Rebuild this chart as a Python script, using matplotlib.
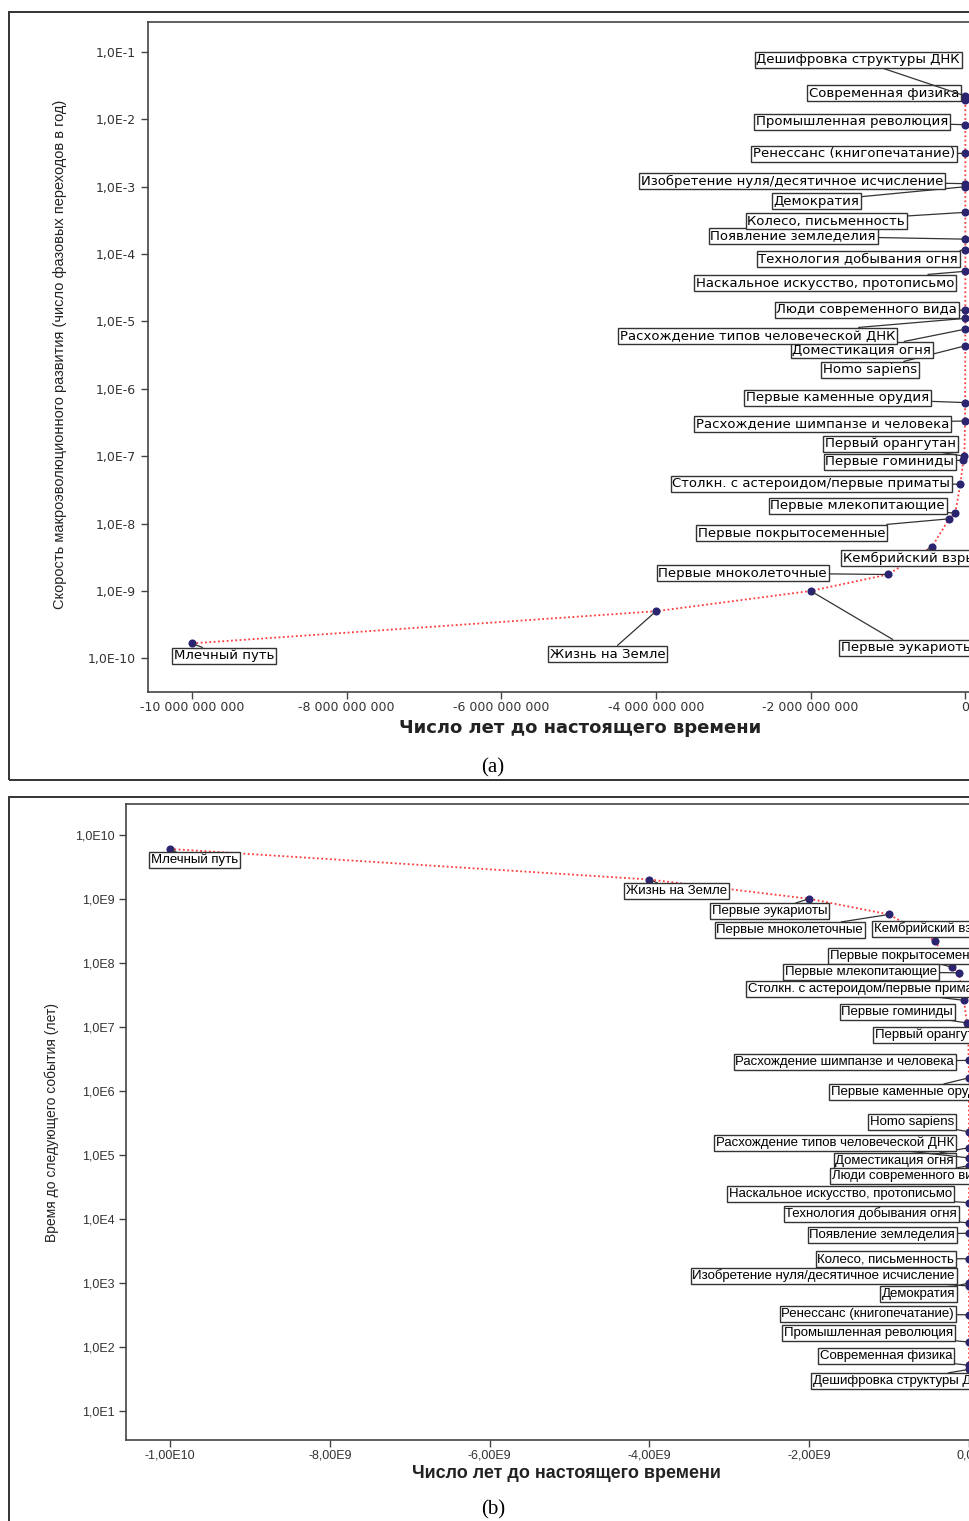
import numpy as np
import matplotlib
matplotlib.use("Agg")
import matplotlib.pyplot as plt
from matplotlib.patches import Rectangle
from matplotlib.ticker import FixedLocator, FuncFormatter

# events in chronological order
events = [
    "Млечный путь", "Жизнь на Земле", "Первые эукариоты", "Первые мноколеточные",
    "Кембрийский взрыв", "Первые покрытосеменные", "Первые млекопитающие",
    "Столкн. с астероидом/первые приматы", "Первые гоминиды", "Первый орангутан",
    "Расхождение шимпанзе и человека", "Первые каменные орудия", "Homo sapiens",
    "Доместикация огня", "Расхождение типов человеческой ДНК", "Люди современного вида",
    "Наскальное искусство, протописьмо", "Технология добывания огня", "Появление земледелия",
    "Колесо, письменность", "Демократия", "Изобретение нуля/десятичное исчисление",
    "Ренессанс (книгопечатание)", "Промышленная революция", "Современная физика",
    "Дешифровка структуры ДНК",
]
# years before present
years_ago = [
    -1.0e10, -4.0e9, -2.0e9, -1.0e9, -4.3e8, -2.1e8, -1.3e8, -6.5e7, -2.5e7, -1.3e7,
    -4.0e6, -2.5e6, -5.0e5, -4.0e5, -2.0e5, -1.0e5, -3.5e4, -1.5e4, -1.1e4, -5.0e3,
    -2.5e3, -1.5e3, -550, -225, -100, -50,
]
# time to the next event, years
time_to_next = [
    6.0e9, 2.0e9, 1.0e9, 5.7e8, 2.2e8, 8.5e7, 7.0e7, 2.6e7, 1.15e7, 1.0e7,
    3.0e6, 1.6e6, 2.3e5, 1.3e5, 9.0e4, 6.8e4, 1.8e4, 8.7e3, 6.0e3, 2.4e3,
    1.0e3, 9.0e2, 3.2e2, 1.2e2, 52, 45,
]
# rate of macroevolution = transitions per year
rate = [1.0 / t for t in time_to_next]

W, H = 969, 1521

# label box anchors (image pixels: x, y centre, alignment)
lab_a = [
    (174, 656, "left"), (550, 654, "left"), (841, 648, "left"), (827, 573, "right"),
    (843, 558, "left"), (885, 533, "right"), (945, 506, "right"), (950, 484, "right"),
    (954, 462, "right"), (825, 444, "left"), (696, 424, "left"), (929, 398, "right"),
    (917, 370, "right"), (931, 350, "right"), (895, 336, "right"), (957, 310, "right"),
    (696, 283, "left"), (958, 259, "right"), (876, 236, "right"), (905, 221, "right"),
    (859, 201, "right"), (943, 181, "right"), (955, 154, "right"), (948, 122, "right"),
    (959, 93, "right"), (960, 60, "right"),
]
lab_b = [
    (151, 860, "left"), (626, 891, "left"), (712, 911, "left"), (863, 930, "right"),
    (874, 929, "left"), (830, 956, "left"), (937, 972, "right"), (748, 989, "left"),
    (953, 1012, "right"), (875, 1035, "left"), (954, 1062, "right"), (831, 1092, "left"),
    (954, 1122, "right"), (954, 1161, "right"), (954, 1143, "right"), (832, 1176, "left"),
    (952, 1194, "right"), (957, 1214, "right"), (955, 1235, "right"), (954, 1259, "right"),
    (955, 1294, "right"), (955, 1276, "right"), (954, 1314, "right"), (953, 1333, "right"),
    (952, 1356, "right"), (813, 1381, "left"),
]

LINE_RED = "#ff3b3b"
DOT = "#2b2470"

fig = plt.figure(figsize=(W / 100, H / 100), dpi=100)


def fig_rect(left, top, right, bottom):
    return [left / W, 1 - bottom / H, (right - left) / W, (bottom - top) / H]


def draw_panel(ax, yvals, labels, fs, family):
    ax.plot(years_ago, yvals, linestyle=(0, (1, 1.4)), color=LINE_RED, lw=1.3, zorder=2)
    ax.scatter(years_ago, yvals, s=34, color=DOT, zorder=3, linewidths=0)
    for name, x, y, (px, py, ha) in zip(events, years_ago, yvals, labels):
        ax.annotate(name, xy=(x, y), xytext=(px, H - py), textcoords="figure pixels",
                    ha=ha, va="center", fontsize=fs, family=family, zorder=4,
                    bbox=dict(boxstyle="square,pad=0.12", fc="white", ec="#333333", lw=1.0),
                    arrowprops=dict(arrowstyle="-", color="#333333", lw=0.9,
                                    shrinkA=0, shrinkB=2))
    ax.set_yscale("log")
    for sp in ax.spines.values():
        sp.set_color("#444444")
        sp.set_linewidth(1.2)
    ax.tick_params(direction="out", length=5, width=1, color="#444444")
    ax.tick_params(axis="x", pad=1.5)
    ax.minorticks_off()


# outer frames
fig.add_artist(Rectangle((9 / W, 1 - 780 / H), 2, (780 - 12) / H, transform=fig.transFigure,
                         fill=False, ec="#333333", lw=1.4))
fig.add_artist(Rectangle((9 / W, -0.05), 2, 1 - 797 / H + 0.05, transform=fig.transFigure,
                         fill=False, ec="#333333", lw=1.4))

# panel (a)
ax1 = fig.add_axes(fig_rect(148, 22, 1004, 692))
draw_panel(ax1, rate, lab_a, 9.5, "DejaVu Sans")
ax1.set_xlim(-10.57e9, 0.5e9)
ax1.set_ylim(10 ** -10.5, 10 ** -0.555)
ax1.yaxis.set_major_locator(FixedLocator([10.0 ** e for e in range(-10, 0)]))
ax1.yaxis.set_major_formatter(FuncFormatter(lambda v, p: "1,0E%d" % round(np.log10(v))))
ax1.xaxis.set_major_locator(FixedLocator([-1e10, -8e9, -6e9, -4e9, -2e9, 0]))
ax1.xaxis.set_major_formatter(FuncFormatter(
    lambda v, p: "0" if v == 0 else "-" + format(int(abs(v)), ",").replace(",", " ")))
for t in ax1.get_yticklabels() + ax1.get_xticklabels():
    t.set_fontsize(9)
    t.set_color("#333333")
fig.text(60 / W, 1 - 354 / H, "Скорость макроэволюционного развития (число фазовых переходов в год)",
         rotation=90, ha="center", va="center", fontsize=10.5, family="Liberation Sans",
         color="#222222")
fig.text(580 / W, 1 - 728 / H, "Число лет до настоящего времени", ha="center", va="center",
         fontsize=13, fontweight="bold", family="DejaVu Sans", color="#222222")
fig.text(493 / W, 1 - 768 / H, "(a)", ha="center", va="center", fontsize=15,
         family="Liberation Serif")

# panel (b)
ax2 = fig.add_axes(fig_rect(126, 804, 1009, 1440))
draw_panel(ax2, time_to_next, lab_b, 9.5, "Liberation Sans")
ax2.set_xlim(-10.55e9, 0.5e9)
ax2.set_ylim(10 ** 0.55, 10 ** 10.48)
ax2.yaxis.set_major_locator(FixedLocator([10.0 ** e for e in range(1, 11)]))
ax2.yaxis.set_major_formatter(FuncFormatter(lambda v, p: "1,0E%d" % round(np.log10(v))))
ax2.xaxis.set_major_locator(FixedLocator([-1e10, -8e9, -6e9, -4e9, -2e9, 0]))
ax2.xaxis.set_major_formatter(FuncFormatter(
    lambda v, p: "0,00" if v == 0 else "-%s,00E%d" % (str(int(abs(v) / 10 ** int(np.log10(abs(v))))),
                                                      int(np.log10(abs(v))))))
for t in ax2.get_yticklabels() + ax2.get_xticklabels():
    t.set_fontsize(9)
    t.set_family("Liberation Sans")
    t.set_color("#333333")
fig.text(52 / W, 1 - 1122 / H, "Время до следующего события (лет)", rotation=90,
         ha="center", va="center", fontsize=10, family="Liberation Sans", color="#222222")
fig.text(566 / W, 1 - 1474 / H, "Число лет до настоящего времени", ha="center", va="center",
         fontsize=13, fontweight="bold", family="Liberation Sans", color="#222222")
fig.text(493 / W, 1 - 1510 / H, "(b)", ha="center", va="center", fontsize=15,
         family="Liberation Serif")

fig.savefig("out.png", dpi=100, facecolor="white")
